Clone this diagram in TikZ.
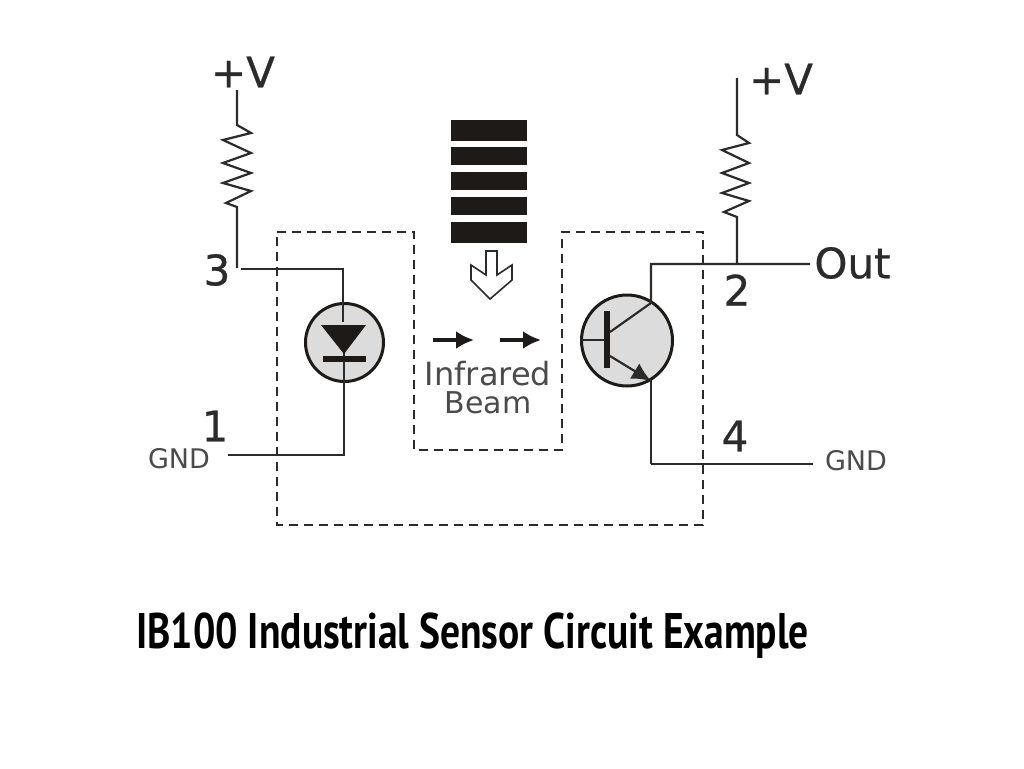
\documentclass[tikz,border=0pt]{standalone}
\usepackage{fontspec}
\setmainfont{DejaVu Sans}
\newfontfamily\heavyfont[FakeBold=0.6]{DejaVu Sans}
\newfontfamily\titlefont{PT Sans}
\usetikzlibrary{arrows.meta}
\definecolor{ink}{HTML}{2B2B2B}
\definecolor{bodygray}{HTML}{DCDCDC}
\definecolor{blockink}{HTML}{1E1A17}
\tikzset{
  wire/.style={draw=ink,line width=2.2pt,line join=miter},
  dashbox/.style={draw=ink,line width=2pt,dash pattern=on 9pt off 6pt},
  device/.style={circle,draw=blockink,line width=3pt,fill=bodygray,inner sep=0pt},
  bigtext/.style={text=ink,inner sep=0pt,anchor=center,font=\heavyfont\fontsize{42}{44}\selectfont},
  smalltext/.style={text=ink!85,inner sep=0pt,anchor=center,font=\fontsize{27}{29}\selectfont},
  beamtext/.style={text=ink!85,inner sep=0pt,anchor=center,font=\fontsize{32}{34}\selectfont},
  blockbar/.style={fill=blockink,draw=none},
  beam/.style={draw=blockink,line width=3.4pt,-{Latex[length=18pt,width=18pt]}},
}
\begin{document}
\begin{tikzpicture}[x=1pt,y=-1pt]
\useasboundingbox (0,0) rectangle (1024,768);
\fill[white] (0,0) rectangle (1024,768);
% dashed housing
\draw[dashbox] (277,232) -- (414,232) -- (414,450) -- (562,450) -- (562,232) -- (703,232) -- (703,525) -- (277,525) -- cycle;
% devices
\node[device,minimum size=78pt] (led) at (344.5,342.5) {};
\node[device,minimum size=91pt] (npn) at (627,340.5) {};
% named points
\coordinate (lvtop) at (237,90);
\coordinate (lrtop) at (237,125);
\coordinate (lrbot) at (237,207);
\coordinate (l3a) at (237,268);
\coordinate (l3b) at (241,269);
\coordinate (l3c) at (343,269);
\coordinate (lgnd) at (344,455);
\coordinate (lgndend) at (228,455);
\coordinate (rvtop) at (737,78);
\coordinate (rrtop) at (737,135);
\coordinate (rrbot) at (737,217);
\coordinate (rjoin) at (737,264);
\coordinate (outend) at (810,264);
\coordinate (ctop) at (651,264);
\coordinate (cin) at (651,303);
\coordinate (ein) at (651,380);
\coordinate (ecorner) at (651,464);
\coordinate (gndend) at (813,464);
% left branch
\draw[wire] (lvtop) -- (lrtop) -- (251,133) -- (223,140) -- (251,153) -- (223,163) -- (251,173) -- (223,183) -- (251,191) -- (226,203) -- (lrbot) -- (l3a);
\draw[wire] (l3b) -- (l3c) -- (343,322);
\draw[wire] (344,353) -- (lgnd) -- (lgndend);
% diode
\fill[blockink] (321,325) -- (366,325) -- (344,354) -- cycle;
\fill[blockink] (323,356) rectangle (366,362);
% right branch
\draw[wire] (rvtop) -- (rrtop) -- (749,143) -- (722,150) -- (749,163) -- (722,173) -- (749,183) -- (722,193) -- (749,201) -- (724,212) -- (rrbot) -- (rjoin);
\draw[wire] (outend) -- (ctop) -- (cin) -- (610,332);
\draw[wire] (ecorner) -- (ein);
\draw[wire] (gndend) -- (ecorner);
% transistor
\fill[blockink] (604,311) rectangle (610,368);
\draw[wire] (581,340) -- (605,340);
\draw[wire,-{Latex[length=19pt,width=18pt]}] (610,356) -- (651,381);
% shutter
\fill[blockbar] (451,120) rectangle (527,141);
\fill[blockbar] (451,147) rectangle (527,165);
\fill[blockbar] (451,172) rectangle (527,190);
\fill[blockbar] (451,197) rectangle (527,215);
\fill[blockbar] (451,222) rectangle (527,243);
\draw[draw=ink,line width=1.6pt,fill=white] (486,251) -- (497,251) -- (497,275) -- (512,265) -- (512,280) -- (490,299) -- (471,280) -- (471,265) -- (486,275) -- cycle;
% beam arrows
\coordinate (b1a) at (433,340); \coordinate (b1b) at (474,340);
\coordinate (b2a) at (500,340); \coordinate (b2b) at (541,340);
\draw[beam] (b1a) -- (b1b);
\draw[beam] (b2a) -- (b2b);
% labels
\node[bigtext] (pv1) at (243,72) {+V};
\node[bigtext] (pv2) at (781,79) {+V};
\node[bigtext] (n3) at (217,270) {3};
\node[bigtext] (n1) at (215,426) {1};
\node[bigtext] (n2) at (737,290) {2};
\node[bigtext] (n4) at (735,436) {4};
\node[bigtext] (out) at (852.5,263) {Out};
\node[smalltext] (gl) at (179,459) {GND};
\node[smalltext] (gr) at (856,461) {GND};
\node[beamtext] (ir) at (488,374) {Infrared};
\node[beamtext,font=\fontsize{30}{32}\selectfont] (bm) at (488,403) {Beam};
\node[inner sep=0pt,text=black] (title) at (472.5,636) {\titlefont\bfseries\scalebox{0.79}[1.0]{\fontsize{50}{53}\selectfont IB100 Industrial Sensor Circuit Example}};
\end{tikzpicture}
\end{document}
